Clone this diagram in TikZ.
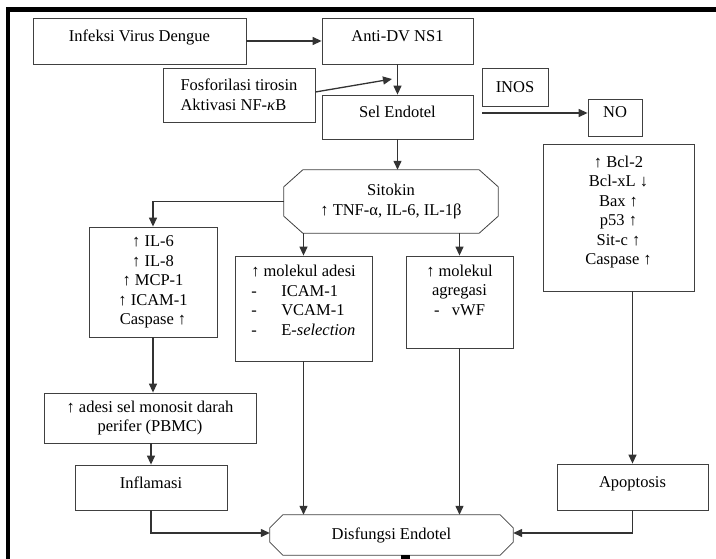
\documentclass[tikz,border=0pt]{standalone}
\usepackage{fontspec}
\setmainfont{Liberation Serif}
\usetikzlibrary{arrows.meta,calc}
\begin{document}
\begin{tikzpicture}[x=1pt,y=-1pt,
  txt/.style={align=center,inner sep=1pt,font=\fontsize{16.5}{19.5}\selectfont},
  box/.style={txt,draw=black!75,line width=0.8pt},
  topish/.style={text height=11pt,text depth=10pt},
  octo/.style={draw=black!75,line width=0.8pt},
  arr/.style={draw=black!80,line width=1.3pt,-{Triangle[length=9pt,width=8pt]}},
]
\useasboundingbox (0,0) rectangle (716,559);
% frame
\draw[line width=4.5pt] (8,600) -- (8,9.5) -- (740,9.5);

\node[box,topish,minimum width=213pt,minimum height=46pt] (inf) at (139.5,41) {Infeksi Virus Dengue};
\node[box,topish,minimum width=151pt,minimum height=46pt] (anti) at (397.5,41) {Anti-DV NS1};
\node[box,align=left,minimum width=152pt,minimum height=54pt] (fos) at (239,95) {Fosforilasi tirosin\\Aktivasi NF-\textit{κ}B};
\node[box,topish,minimum width=151pt,minimum height=44pt] (sel) at (397.5,117) {Sel Endotel};
\node[box,minimum width=66pt,minimum height=38pt] (inos) at (515,87) {INOS};
\node[box,topish,minimum width=54pt,minimum height=37pt] (no) at (615,117.5) {NO};
\node[box,text depth=14pt,minimum width=151pt,minimum height=147pt] (rb) at (618.5,217.5) {↑ Bcl-2\\Bcl-xL ↓\\Bax ↑\\p53 ↑\\Sit-c ↑\\Caspase ↑};
\node[txt,minimum width=214pt,minimum height=63pt] (sit) at (391,201.5) {Sitokin\\↑ TNF-α, IL-6, IL-1β};
\node[box,minimum width=128pt,minimum height=110pt] (il) at (153,282) {↑ IL-6\\↑ IL-8\\↑ MCP-1\\↑ ICAM-1\\Caspase ↑};
\node[box,align=left,text depth=16pt,minimum width=137pt,minimum height=105pt] (ad) at (303.5,308.5) {↑ molekul adesi\\\makebox[30pt][l]{-}ICAM-1\\\makebox[30pt][l]{-}VCAM-1\\\makebox[30pt][l]{-}E-\textit{selection}};
\node[box,text depth=24pt,minimum width=107pt,minimum height=92pt] (ag) at (459.5,302) {↑ molekul\\agregasi\\\makebox[18pt][l]{-}vWF};
\node[box,minimum width=212pt,minimum height=50pt] (pb) at (150,418) {↑ adesi sel monosit darah\\perifer (PBMC)};
\node[box,topish,minimum width=152pt,minimum height=45pt] (infl) at (151,487.5) {Inflamasi};
\node[box,topish,minimum width=151pt,minimum height=46pt] (apop) at (632.5,487) {Apoptosis};
\node[txt,minimum width=243pt,minimum height=40pt] (dis) at (391.5,535) {Disfungsi Endotel};

% octagon outlines
\draw[octo] ($(sit.north west)+(19,0)$) -- ($(sit.north east)+(-19,0)$) -- ($(sit.north east)+(0,17)$) -- ($(sit.south east)+(0,-17)$) -- ($(sit.south east)+(-19,0)$) -- ($(sit.south west)+(19,0)$) -- ($(sit.south west)+(0,-17)$) -- ($(sit.north west)+(0,17)$) -- cycle;
\draw[octo] ($(dis.north west)+(13,0)$) -- ($(dis.north east)+(-13,0)$) -- ($(dis.north east)+(0,13)$) -- ($(dis.south east)+(0,-13)$) -- ($(dis.south east)+(-13,0)$) -- ($(dis.south west)+(13,0)$) -- ($(dis.south west)+(0,-13)$) -- ($(dis.north west)+(0,13)$) -- cycle;

% connectors
\coordinate (fosend) at (392,79);
\coordinate (noS) at (482,113);
\coordinate (dtail) at (405,575);
\draw[arr] (inf) -- (anti);
\draw[arr] (anti) -- (sel);
\draw[arr] ($(fos.east)+(0,-3)$) -- (fosend);
\draw[arr] (noS) -- (noS -| no.west);
\draw[arr] (sel.south) -- (sel.south |- sit.north);
\draw[arr] (sit.west) -| (il.north);
\draw[arr] (ad.north |- sit.south) -- (ad.north);
\draw[arr] (ag.north |- sit.south) -- (ag.north);
\draw[arr] (il.south) -- (il.south |- pb.north);
\draw[arr] (infl.north |- pb.south) -- (infl.north);
\draw[arr] (ad.south) -- (ad.south |- dis.north);
\draw[arr] (ag.south) -- (ag.south |- dis.north);
\draw[arr] (apop.north |- rb.south) -- (apop.north);
\draw[arr] (infl.south) |- ($(dis.west)+(0,-2)$);
\draw[arr] (apop.south) |- ($(dis.east)+(0,-2)$);
\draw[line width=9pt] (dis.south -| dtail) -- (dtail);
\end{tikzpicture}
\end{document}
